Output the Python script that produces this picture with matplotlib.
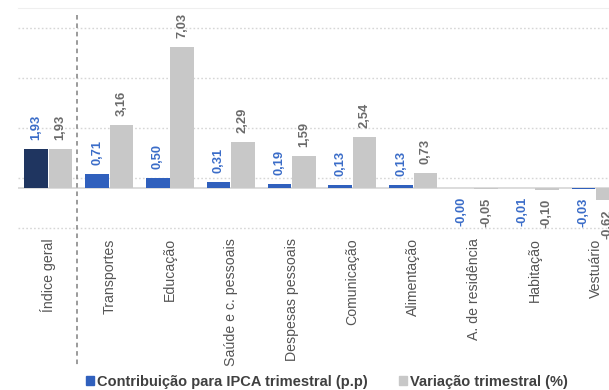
import matplotlib
matplotlib.use("Agg")
import matplotlib.pyplot as plt
from matplotlib.patches import Rectangle
from matplotlib.lines import Line2D

plt.rcParams['font.family'] = ['Liberation Sans', 'DejaVu Sans']

categories = ["Índice geral", "Transportes", "Educação", "Saúde e c. pessoais",
              "Despesas pessoais", "Comunicação", "Alimentação",
              "A. de residência", "Habitação", "Vestuário"]
contribuicao = [1.93, 0.71, 0.50, 0.31, 0.19, 0.13, 0.13, -0.001, -0.01, -0.03]
contribuicao_txt = ["1,93", "0,71", "0,50", "0,31", "0,19", "0,13", "0,13",
                    "-0,00", "-0,01", "-0,03"]
variacao = [1.93, 3.16, 7.03, 2.29, 1.59, 2.54, 0.73, -0.05, -0.10, -0.62]
variacao_txt = ["1,93", "3,16", "7,03", "2,29", "1,59", "2,54", "0,73",
                "-0,05", "-0,10", "-0,62"]
gridlines = [-2.0, 0.5, 3.0, 5.5, 8.0]

NAVY = "#1f3560"
BLUE = "#3060bd"
BLUE_TXT = "#3a6cc8"
GRAY = "#c8c8c8"
GRAY_TXT = "#6a6a6a"

W, H = 609, 390
fig = plt.figure(figsize=(W / 100, H / 100), dpi=100)
# plot area runs past the right edge of the canvas
ax = fig.add_axes([18 / W, (H - 230) / H, 608 / W, 222 / H])
ax.set_xlim(-0.5, 9.5)
ax.set_ylim(-2.1, 9.0)

for g in gridlines:
    ax.axhline(g, color="#d6d6d6", lw=1.0, ls=(0, (1.2, 1.6)), zorder=0)
ax.axhline(0, color="#d9d9d9", lw=1.3, zorder=1)

x = list(range(len(categories)))
bw = 0.39
off = 0.2
blue_colors = [NAVY] + [BLUE] * (len(categories) - 1)
ax.bar([i - off for i in x], contribuicao, width=bw, color=blue_colors, zorder=2)
ax.bar([i + off for i in x], variacao, width=bw, color=GRAY, zorder=2)

def label(xpos, val, txt, color, weight):
    va = "bottom" if val >= 0 else "top"
    dy = 6.5 if val >= 0 else -6.5
    ax.annotate(txt, (xpos, val), xytext=(0, dy), textcoords="offset points",
                rotation=90, ha="center", va=va, color=color,
                fontsize=9.3, fontweight=weight, annotation_clip=False)

for i in x:
    label(i - off, contribuicao[i], contribuicao_txt[i], BLUE_TXT, "bold")
    label(i + off, variacao[i], variacao_txt[i], GRAY_TXT, "bold")

for s in ["left", "right", "bottom"]:
    ax.spines[s].set_visible(False)
ax.spines["top"].set_color("#efefef")
ax.spines["top"].set_linewidth(0.8)
ax.set_yticks([])
ax.set_xticks(x)
ax.set_xticklabels(categories, rotation=90, fontsize=10.2, color="#555555",
                   va="top", ha="center")
ax.tick_params(axis="x", length=0, pad=6)

# dashed separator between the general index and the groups
ax.add_line(Line2D([0.47, 0.47], [8.65, -8.95], color="#808080", lw=1.1,
                   ls=(0, (3, 2.5)), clip_on=False, zorder=3))

# legend
handles = [Rectangle((0, 0), 1, 1, color=BLUE), Rectangle((0, 0), 1, 1, color=GRAY)]
fig.legend(handles, ["Contribuição para IPCA trimestral (p.p)", "Variação trimestral (%)"],
           loc="center", bbox_to_anchor=(327 / W, 1 - 382 / H), ncol=2, frameon=False,
           handlelength=0.55, handleheight=0.55, handletextpad=0.25, columnspacing=2.1,
           prop={"size": 10.5, "weight": "bold"}, labelcolor="#404040")

fig.savefig("out.png", dpi=100)
